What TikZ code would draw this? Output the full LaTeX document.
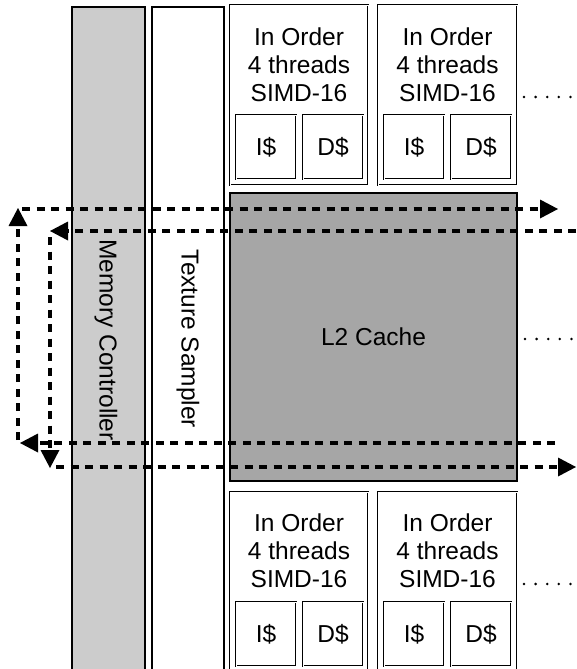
\documentclass[tikz,border=0pt]{standalone}
\usepackage{fontspec}
\setmainfont{Liberation Sans}
\usetikzlibrary{arrows.meta}
\definecolor{memgray}{HTML}{CCCCCC}
\definecolor{cachegray}{HTML}{A6A6A6}
\begin{document}
\begin{tikzpicture}[x=1pt,y=-1pt,
  column/.style={draw=black, line width=1.4pt, inner sep=0pt, outer sep=0pt, anchor=north west},
  dbox/.style={draw=black, line width=0.9pt, double=white, double distance=0.9pt,
    inner sep=0pt, outer sep=0pt, anchor=north west},
  lbl/.style={font=\fontsize{24.5}{28}\selectfont, align=center, inner sep=0pt},
  flow/.style={line width=3.4pt, dash pattern=on 8pt off 6.5pt,
    -{Triangle[length=18pt,width=19pt,line width=0pt]}},
  more/.style={line width=2.8pt, line cap=round, dash pattern=on 0pt off 11.6pt}]
\useasboundingbox (0,0) rectangle (576,669);
\clip (0,0) rectangle (576,669);

% vertical units on the left
\node[column, fill=memgray, minimum width=73pt, minimum height=680pt] (mc) at (72,7) {};
\node[column, fill=white, minimum width=72pt, minimum height=680pt] (ts) at (152,7) {};
\node[lbl, rotate=-90] at (106,340) {Memory Controller};
\node[lbl, rotate=-90] at (188,339) {Texture Sampler};

% shared L2 cache
\node[column, fill=cachegray, minimum width=287pt, minimum height=288pt] (l2) at (230,193) {};
\node[lbl] at (l2.center) {L2 Cache};

% cores: top row
\node[dbox, minimum width=138pt, minimum height=180pt] (c1) at (230,5) {};
\node[dbox, minimum width=139pt, minimum height=180pt] (c2) at (378,5) {};
% cores: bottom row
\node[dbox, minimum width=138pt, minimum height=190pt] (c3) at (230,492) {};
\node[dbox, minimum width=139pt, minimum height=190pt] (c4) at (378,492) {};

\foreach \c/\x/\y in {c1/299/65, c2/447.5/65, c3/299/551, c4/447.5/551}
  \node[lbl] at (\x,\y) {In Order\\4 threads\\SIMD-16};

% per-core instruction and data caches
\foreach \n/\x/\y in {i1/236/115, d1/303/115, i2/384/115, d2/451/115,
                      i3/236/602, d3/303/602, i4/384/602, d4/451/602}
  \node[dbox, minimum width=60pt, minimum height=64pt] (\n) at (\x,\y) {};
\foreach \n in {i1,i2,i3,i4}
  \node[lbl] at (\n.center) {I\$};
\foreach \n in {d1,d2,d3,d4}
  \node[lbl] at (\n.center) {D\$};

% ring bus end points
\coordinate (r1s) at (22,209);   \coordinate (r1e) at (558,209);
\coordinate (r2s) at (576,231);  \coordinate (r2e) at (50,231);
\coordinate (r3s) at (555,443);  \coordinate (r3e) at (20,443);
\coordinate (r4s) at (56,467);   \coordinate (r4e) at (576,467);
\coordinate (v1s) at (18,440);   \coordinate (v1e) at (18,208);
\coordinate (v2s) at (50,237);   \coordinate (v2e) at (50,468);

\draw[flow] (r1s) -- (r1e);
\draw[flow] (r2s) -- (r2e);
\draw[flow] (r3s) -- (r3e);
\draw[flow] (r4s) -- (r4e);
\draw[flow] (v1s) -- (v1e);
\draw[flow] (v2s) -- (v2e);

% continuation marks to the right
\coordinate (m1) at (576,97);
\coordinate (m2) at (576,339);
\coordinate (m3) at (576,584);
\draw[more] ([xshift=7pt]c2.east |- m1) -- (m1);
\draw[more] ([xshift=8pt]l2.east |- m2) -- (m2);
\draw[more] ([xshift=7pt]c4.east |- m3) -- (m3);
\end{tikzpicture}
\end{document}
